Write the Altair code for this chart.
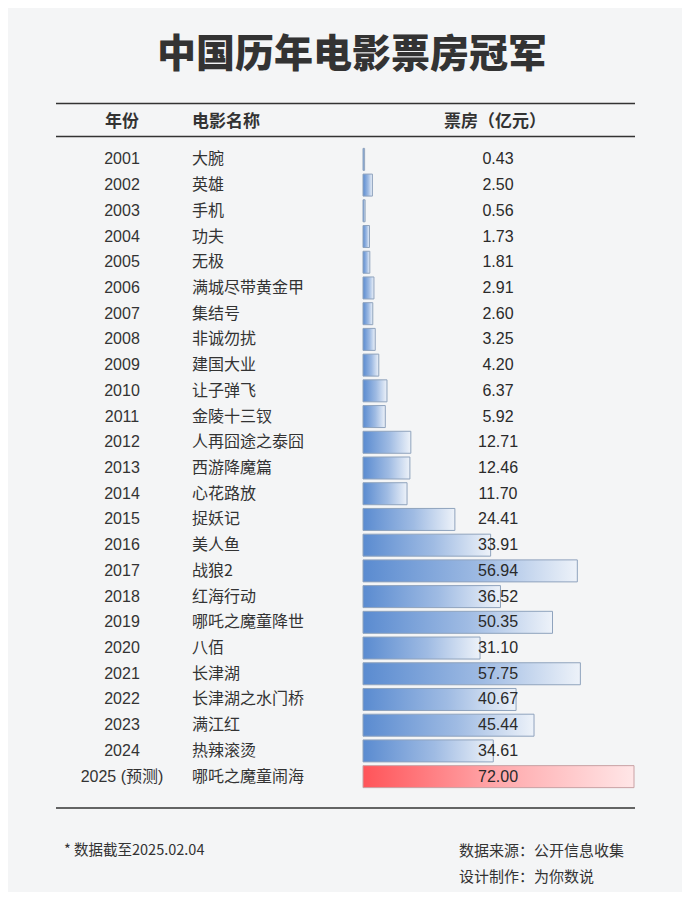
import altair as alt
import pandas as pd

years = ["2001", "2002", "2003", "2004", "2005", "2006", "2007", "2008", "2009", "2010",
         "2011", "2012", "2013", "2014", "2015", "2016", "2017", "2018", "2019", "2020",
         "2021", "2022", "2023", "2024", "2025 (预测)"]
films = ["大腕", "英雄", "手机", "功夫", "无极", "满城尽带黄金甲", "集结号", "非诚勿扰", "建国大业", "让子弹飞",
         "金陵十三钗", "人再囧途之泰囧", "西游降魔篇", "心花路放", "捉妖记", "美人鱼", "战狼2", "红海行动", "哪吒之魔童降世", "八佰",
         "长津湖", "长津湖之水门桥", "满江红", "热辣滚烫", "哪吒之魔童闹海"]
box = [0.43, 2.50, 0.56, 1.73, 1.81, 2.91, 2.60, 3.25, 4.20, 6.37,
       5.92, 12.71, 12.46, 11.70, 24.41, 33.91, 56.94, 36.52, 50.35, 31.10,
       57.75, 40.67, 45.44, 34.61, 72.00]
forecast = [False] * 24 + [True]

df = pd.DataFrame({"year": years, "film": films, "box": box, "forecast": forecast})
df["label"] = df["box"].map(lambda v: f"{v:.2f}")

W, H = 674, 884
BG = "#f4f5f6"
TXT = "#333333"
FONT = "Liberation Sans, Noto Sans CJK SC, sans-serif"
CJK = "Noto Sans CJK SC, sans-serif"

ysc = alt.Scale(domain=years, range=[138.5, 781.5], paddingInner=0, paddingOuter=0)
xsc = alt.Scale(domain=[0, 72], range=[355, 626])
Y = alt.Y("year:N", scale=ysc, axis=None, sort=years)

base = alt.Chart(df)

blue = alt.Gradient(gradient="linear", x1=0, x2=1, y1=0, y2=0,
                    stops=[alt.GradientStop(color="#5a8bd0", offset=0),
                           alt.GradientStop(color="#9fbbe3", offset=0.55),
                           alt.GradientStop(color="#edf2f9", offset=1)])
red = alt.Gradient(gradient="linear", x1=0, x2=1, y1=0, y2=0,
                   stops=[alt.GradientStop(color="#ff5459", offset=0),
                          alt.GradientStop(color="#ffa9ac", offset=0.5),
                          alt.GradientStop(color="#ffe6e7", offset=1)])

bars_blue = base.transform_filter("!datum.forecast").mark_bar(
    height=22, fill=blue, stroke="#8fa3bd", strokeWidth=1
).encode(x=alt.X("box:Q", scale=xsc, axis=None), x2=alt.datum(0), y=Y)

bars_red = base.transform_filter("datum.forecast").mark_bar(
    height=22, fill=red, stroke="#c9a2a4", strokeWidth=1
).encode(x=alt.X("box:Q", scale=xsc, axis=None), x2=alt.datum(0), y=Y)

year_txt = base.mark_text(align="center", baseline="middle", font=FONT, fontSize=16, color=TXT).encode(
    x=alt.value(114), y=Y, text="year:N")
film_txt = base.mark_text(align="left", baseline="middle", font=CJK, fontSize=16, color=TXT).encode(
    x=alt.value(184), y=Y, text="film:N")
val_txt = base.mark_text(align="center", baseline="middle", font=FONT, fontSize=16, color="#2a2a2a").encode(
    x=alt.value(490), y=Y, text="label:N")

def txt(s, x, y, size, align="left", weight="normal", font=CJK):
    return alt.Chart(pd.DataFrame({"t": [s]})).mark_text(
        align=align, baseline="middle", font=font, fontSize=size, fontWeight=weight, color=TXT
    ).encode(x=alt.value(x), y=alt.value(y), text="t:N")

title = txt("中国历年电影票房冠军", 344, 47, 39, align="center", weight=900)
h1 = txt("年份", 114, 114, 17, align="center", weight="bold")
h2 = txt("电影名称", 184, 114, 17, align="left", weight="bold")
h3 = txt("票房（亿元）", 487, 114, 17, align="center", weight="bold")
f1 = txt("* 数据截至2025.02.04", 56, 843, 14.5)
f2 = txt("数据来源：公开信息收集", 451, 843, 15)
f3 = txt("设计制作：为你数说", 451, 869, 15)

def hline(y):
    return alt.Chart(pd.DataFrame({"a": [0]})).mark_rule(color=TXT, strokeWidth=1.6).encode(
        x=alt.value(48), x2=alt.value(627), y=alt.value(y))

chart = alt.layer(
    bars_blue, bars_red, year_txt, film_txt, val_txt,
    title, h1, h2, h3, f1, f2, f3,
    hline(95.5), hline(128.5), hline(800)
).properties(
    width=W, height=H, background=BG, padding=0,
    autosize=alt.AutoSizeParams(type="none")
).configure_view(stroke=None)

chart.save("out.html", embed_options={"renderer": "svg", "actions": False})
